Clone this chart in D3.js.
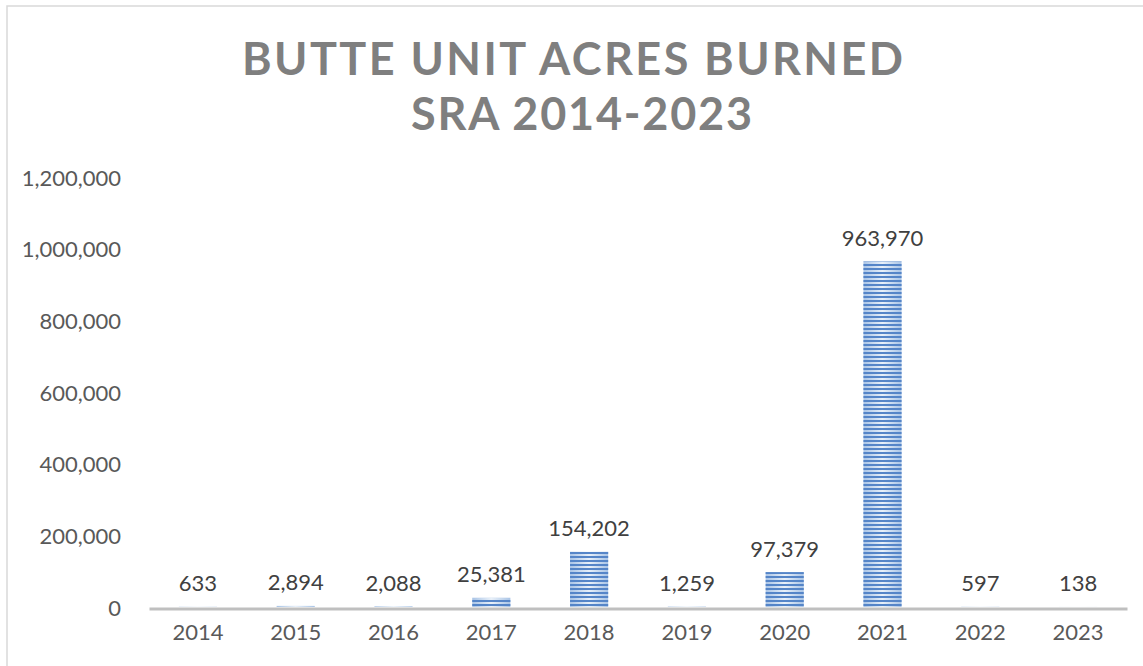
<!DOCTYPE html>
<html lang="en">
<head>
<meta charset="utf-8">
<title>Butte Unit Acres Burned</title>
<script src="https://cdn.jsdelivr.net/npm/d3@7"></script>
<style>
  html, body { margin: 0; padding: 0; background: #fff; overflow: hidden; }
  svg text { font-family: Lato, "Open Sans", sans-serif; }
</style>
</head>
<body>
<div id="chart"></div>
<script>
// data
var years = ["2014","2015","2016","2017","2018","2019","2020","2021","2022","2023"];
var acres = [633, 2894, 2088, 25381, 154202, 1259, 97379, 963970, 597, 138];
var yTicks = [0, 200000, 400000, 600000, 800000, 1000000, 1200000];
var titleLines = ["BUTTE UNIT ACRES BURNED", "SRA 2014-2023"];

var w = 1143, h = 666;

var svg = d3.select("#chart").append("svg")
    .attr("width", w)
    .attr("height", h);

// chart frame
svg.append("rect")
    .attr("x", 7).attr("y", 6)
    .attr("width", w + 10).attr("height", h + 10)
    .attr("fill", "#fff")
    .attr("stroke", "#d9d9d9")
    .attr("stroke-width", 1.5);

var defs = svg.append("defs");

// light horizontal gradient behind the stripes
var grad = defs.append("linearGradient")
    .attr("id", "barGrad")
    .attr("x1", "0").attr("x2", "1").attr("y1", "0").attr("y2", "0");
grad.append("stop").attr("offset", "0%").attr("stop-color", "#a9c4e6");
grad.append("stop").attr("offset", "50%").attr("stop-color", "#e8f0f9");
grad.append("stop").attr("offset", "100%").attr("stop-color", "#a9c4e6");

// horizontal stripes
var pat = defs.append("pattern")
    .attr("id", "stripes")
    .attr("patternUnits", "userSpaceOnUse")
    .attr("width", 8).attr("height", 4);
pat.append("rect")
    .attr("x", 0).attr("y", 0)
    .attr("width", 8).attr("height", 2)
    .attr("fill", "#5585c8");

var xScale = d3.scaleBand()
    .domain(years)
    .range([149, 1127])
    .paddingInner(0.61)
    .paddingOuter(0.305);

var yScale = d3.scaleLinear()
    .domain([0, 1200000])
    .range([607, 177]);

var fmt = d3.format(",");

// y tick labels (no axis line, no gridlines)
svg.selectAll("text.ytick")
    .data(yTicks)
    .enter()
    .append("text")
    .attr("class", "ytick")
    .attr("x", 121)
    .attr("y", function(d) { return yScale(d); })
    .attr("text-anchor", "end")
    .attr("dominant-baseline", "central")
    .attr("font-size", 22)
    .attr("fill", "#595959")
    .text(function(d) { return fmt(d); });

// bars: gradient base + stripe overlay
var bars = svg.selectAll("g.bar")
    .data(acres)
    .enter()
    .append("g")
    .attr("class", "bar");

bars.append("rect")
    .attr("x", function(d, i) { return xScale(years[i]); })
    .attr("y", function(d) { return yScale(d); })
    .attr("width", xScale.bandwidth())
    .attr("height", function(d) { return yScale(0) - yScale(d); })
    .attr("fill", "url(#barGrad)");

bars.append("rect")
    .attr("x", function(d, i) { return xScale(years[i]); })
    .attr("y", function(d) { return yScale(d); })
    .attr("width", xScale.bandwidth())
    .attr("height", function(d) { return yScale(0) - yScale(d); })
    .attr("fill", "url(#stripes)");

// category axis line
var xAxis = d3.axisBottom(xScale).tickSize(0).tickPadding(16);
var gx = svg.append("g")
    .attr("transform", "translate(0,608.5)")
    .call(xAxis);
gx.select(".domain")
    .attr("stroke", "#bfbfbf")
    .attr("stroke-width", 3);
gx.selectAll(".tick text")
    .attr("font-size", 22)
    .attr("fill", "#595959")
    .attr("font-family", "Lato, 'Open Sans', sans-serif");

// value labels
svg.selectAll("text.val")
    .data(acres)
    .enter()
    .append("text")
    .attr("class", "val")
    .attr("x", function(d, i) { return xScale(years[i]) + xScale.bandwidth() / 2; })
    .attr("y", function(d) { return yScale(d) - 24; })
    .attr("text-anchor", "middle")
    .attr("dominant-baseline", "central")
    .attr("font-size", 22)
    .attr("fill", "#404040")
    .text(function(d) { return fmt(d); });

// title, spread out like the original letter spacing
var titleSpec = [
  { x: 242, y: 75, len: 661 },
  { x: 411, y: 130, len: 341 }
];
svg.selectAll("text.title")
    .data(titleLines)
    .enter()
    .append("text")
    .attr("class", "title")
    .attr("x", function(d, i) { return titleSpec[i].x; })
    .attr("y", function(d, i) { return titleSpec[i].y; })
    .attr("textLength", function(d, i) { return titleSpec[i].len; })
    .attr("lengthAdjust", "spacing")
    .attr("font-size", 45)
    .attr("font-weight", "bold")
    .attr("fill", "#7f7f7f")
    .text(function(d) { return d; });
</script>
</body>
</html>
